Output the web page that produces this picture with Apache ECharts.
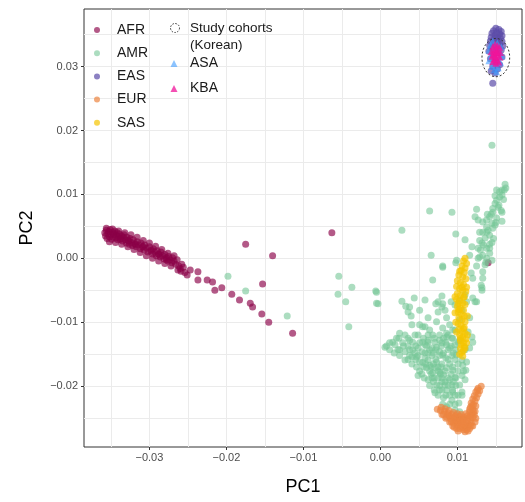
<!DOCTYPE html>
<html>
<head>
<meta charset="utf-8">
<script src="https://cdn.jsdelivr.net/npm/echarts@6/dist/echarts.min.js"></script>
<style>
html,body{margin:0;padding:0;background:#fff;}
#chart{width:525px;height:502px;}
</style>
</head>
<body>
<div id="chart"></div>
<script>
// ---- Tick labels / grid positions ----
const xTicks = [-0.03, -0.02, -0.01, 0.00, 0.01];
const yTicks = [-0.02, -0.01, 0.00, 0.01, 0.02, 0.03];
const xGrid = [-0.035, -0.03, -0.025, -0.02, -0.015, -0.01, -0.005, 0.0, 0.005, 0.01, 0.015];
const yGrid = [-0.025, -0.02, -0.015, -0.01, -0.005, 0.0, 0.005, 0.01, 0.015, 0.02, 0.025, 0.03, 0.035];
const xRange = [-0.0385, 0.0184];
const yRange = [-0.0295, 0.0390];

// ---- Series data (PC1, PC2) ----
const AFR = [
[-0.0358,0.0040],[-0.0357,0.0035],[-0.0356,0.0044],[-0.0355,0.0031],[-0.0354,0.0038],[-0.0353,0.0042],[-0.0352,0.0034],[-0.0351,0.0045],[-0.0350,0.0037],[-0.0349,0.0030],
[-0.0348,0.0041],[-0.0347,0.0034],[-0.0346,0.0038],[-0.0345,0.0043],[-0.0344,0.0032],[-0.0343,0.0036],[-0.0342,0.0040],[-0.0341,0.0029],[-0.0340,0.0034],[-0.0339,0.0038],
[-0.0337,0.0031],[-0.0336,0.0035],[-0.0335,0.0027],[-0.0334,0.0033],[-0.0333,0.0037],[-0.0331,0.0029],[-0.0330,0.0024],[-0.0329,0.0033],[-0.0327,0.0027],[-0.0326,0.0022],
[-0.0325,0.0031],[-0.0323,0.0025],[-0.0322,0.0020],[-0.0321,0.0029],[-0.0319,0.0023],[-0.0317,0.0018],[-0.0316,0.0026],[-0.0314,0.0021],[-0.0312,0.0015],[-0.0311,0.0024],
[-0.0309,0.0018],[-0.0307,0.0013],[-0.0306,0.0021],[-0.0304,0.0016],[-0.0302,0.0010],[-0.0300,0.0018],[-0.0298,0.0013],[-0.0296,0.0007],[-0.0295,0.0015],[-0.0293,0.0010],
[-0.0291,0.0004],[-0.0290,0.0012],[-0.0288,0.0007],[-0.0286,0.0002],[-0.0285,0.0010],[-0.0283,0.0004],[-0.0281,-0.0001],[-0.0280,0.0006],[-0.0278,0.0001],[-0.0276,-0.0004],
[-0.0275,0.0003],[-0.0273,-0.0002],[-0.0271,-0.0007],[-0.0270,0.0001],[-0.0268,-0.0004],[-0.0266,-0.0009],[-0.0264,-0.0002],[-0.0262,-0.0012],[-0.0260,-0.0016],[-0.0258,-0.0009],
[-0.0356,0.0047],[-0.0352,0.0026],[-0.0348,0.0046],[-0.0344,0.0025],[-0.0340,0.0043],[-0.0336,0.0022],[-0.0332,0.0040],[-0.0328,0.0018],[-0.0324,0.0037],[-0.0320,0.0014],
[-0.0316,0.0033],[-0.0312,0.0009],[-0.0308,0.0028],[-0.0304,0.0004],[-0.0300,0.0024],[-0.0296,0.0000],[-0.0292,0.0019],[-0.0288,-0.0004],[-0.0284,0.0014],[-0.0280,-0.0008],
[-0.0276,0.0008],[-0.0272,-0.0012],[-0.0268,0.0004],[-0.0263,-0.0018],[-0.0259,-0.0020],[-0.0256,-0.0014],[-0.0254,-0.0022],
[-0.0338,0.0030],[-0.0328,0.0028],[-0.0318,0.0022],[-0.0308,0.0018],[-0.0298,0.0011],[-0.0288,0.0006],[-0.0278,-0.0002],
[-0.0251,-0.0026],[-0.0247,-0.0018],[-0.0237,-0.0021],[-0.0237,-0.0034],[-0.0225,-0.0034],[-0.0218,-0.0037],[-0.0215,-0.0050],[-0.0206,-0.0046],[-0.0193,-0.0056],[-0.0183,-0.0065],
[-0.0169,-0.0070],[-0.0166,-0.0076],[-0.0154,-0.0087],[-0.0145,-0.0100],[-0.0114,-0.0117],[-0.0175,0.0022],[-0.0140,0.0004],[-0.0153,-0.0040],[-0.0063,0.0040],[0.0140,-0.0007]
];

const AMR = [
[-0.0198,-0.0028],[-0.0175,-0.0051],[-0.0121,-0.0090],
[0.0145,0.0177],[0.0064,0.0074],[0.0093,0.0072],[0.0028,0.0044],[0.0098,0.0038],[0.0066,0.0005],
[-0.0054,-0.0028],[-0.0037,-0.0045],[-0.0055,-0.0056],[-0.0045,-0.0068],[-0.0006,-0.0051],[-0.0003,-0.0071],[-0.0041,-0.0107],
[0.0028,-0.0067],[0.0044,-0.0062],[0.0038,-0.0076],[0.0040,-0.0090],[0.0041,-0.0104],[0.0068,-0.0034],[0.0081,-0.0014],
[0.0080,-0.0059],[0.0092,-0.0068],[0.0072,-0.0071],[0.0081,-0.0071],
[-0.0005,-0.0053],[-0.0005,-0.0070],[0.0033,-0.0075],[0.0036,-0.0084],[0.0058,-0.0107],[0.0081,-0.0109],[0.0086,-0.0117],
[0.0006,-0.0139],[0.0012,-0.0132],[0.0021,-0.0125],[0.0025,-0.0117],[0.0029,-0.0132],[0.0038,-0.0128],[0.0045,-0.0120],[0.0051,-0.0132],
[0.0032,-0.0146],[0.0042,-0.0143],[0.0054,-0.0146],[0.0062,-0.0131],[0.0068,-0.0120],[0.0073,-0.0139],[0.0032,-0.0159],[0.0041,-0.0154],
[0.0058,-0.0156],[0.0064,-0.0167],[0.0073,-0.0162],[0.0081,-0.0151],[0.0090,-0.0140],[0.0093,-0.0125],[0.0060,-0.0171],[0.0068,-0.0179],
[0.0077,-0.0178],[0.0086,-0.0171],[0.0067,-0.0187],[0.0080,-0.0193],[0.0090,-0.0190],[0.0073,-0.0198],[0.0049,-0.0183],[0.0086,-0.0206],
[0.0094,-0.0209],[0.0071,-0.0210],[0.0093,-0.0222],[0.0102,-0.0226],[0.0103,-0.0198],[0.0106,-0.0183],[0.0107,-0.0167],[0.0106,-0.0159],
[0.0112,-0.0162],[0.0116,-0.0140],[0.0120,-0.0131],[0.0097,-0.0073],[0.0112,-0.0068],[0.0120,-0.0062],[0.0125,-0.0068],[0.0132,-0.0050],
[0.0116,-0.0093],[0.0114,-0.0115],[0.0099,-0.0151],[0.0101,-0.0214],[0.0086,-0.0232],[0.0047,-0.0154],[0.0055,-0.0163],[0.0062,-0.0148],
[0.0080,-0.0132],[0.0075,-0.0170],[0.0094,-0.0175],[0.0097,-0.0186],
[0.0019,-0.0135],[0.0025,-0.0143],[0.0036,-0.0137],[0.0049,-0.0140],[0.0058,-0.0135],[0.0067,-0.0140],[0.0077,-0.0146],[0.0085,-0.0156],
[0.0051,-0.0162],[0.0062,-0.0159],[0.0071,-0.0171],[0.0082,-0.0182],[0.0075,-0.0187],[0.0062,-0.0190],[0.0084,-0.0198],[0.0093,-0.0198],
[0.0077,-0.0206],[0.0090,-0.0214],[0.0082,-0.0218],[0.0097,-0.0237],[0.0103,-0.0240],[0.0106,-0.0209],[0.0110,-0.0190],[0.0111,-0.0175],
[0.0077,-0.0128],[0.0086,-0.0135],[0.0097,-0.0135],[0.0103,-0.0128],[0.0110,-0.0143],[0.0064,-0.0112],[0.0051,-0.0104],[0.0073,-0.0099],
[0.0086,-0.0093],[0.0090,-0.0104],[0.0097,-0.0112],[0.0103,-0.0096],[0.0106,-0.0081],[0.0110,-0.0057],[0.0103,-0.0065],
[0.0162,0.0116],[0.0158,0.0107],[0.0151,0.0107],[0.0155,0.0096],[0.0149,0.0086],[0.0153,0.0080],[0.0146,0.0072],[0.0158,0.0072],
[0.0142,0.0065],[0.0151,0.0063],[0.0158,0.0058],[0.0145,0.0055],[0.0138,0.0049],[0.0146,0.0047],[0.0133,0.0041],[0.0142,0.0036],
[0.0136,0.0032],[0.0145,0.0025],[0.0132,0.0024],[0.0138,0.0016],[0.0142,0.0008],[0.0133,0.0005],[0.0145,-0.0003],[0.0136,-0.0010],
[0.0133,-0.0021],[0.0129,0.0002],[0.0127,0.0060],[0.0125,0.0077],[0.0123,0.0065],[0.0133,0.0057],[0.0129,0.0041],
[0.0110,0.0029],[0.0119,0.0018],[0.0127,0.0016],[0.0116,0.0005],[0.0127,0.0000],[0.0125,-0.0012],[0.0081,-0.0012],[0.0099,-0.0003],
[0.0118,-0.0023],[0.0120,-0.0031],[0.0133,-0.0031],[0.0131,-0.0042],
[0.0155,0.0104],[0.0149,0.0098],[0.0160,0.0092],[0.0139,0.0069],[0.0149,0.0052],[0.0138,0.0041],[0.0142,0.0022],[0.0130,0.0013],
[0.0138,0.0000],[0.0154,0.0083],[0.0163,0.0110],
[0.0098,-0.0007],[0.0132,-0.0046],[0.0123,-0.0068],[0.0075,-0.0068],[0.0080,-0.0076],[0.0055,-0.0107],[0.0062,-0.0128],[0.0086,-0.0123],
[0.0094,-0.0112],[0.0119,-0.0123],
[0.0032,-0.0120],[0.0049,-0.0120],[0.0062,-0.0120],[0.0077,-0.0120],[0.0088,-0.0120],
[0.0016,-0.0131],[0.0042,-0.0131],[0.0055,-0.0131],[0.0071,-0.0131],[0.0085,-0.0131],[0.0101,-0.0131],
[0.0012,-0.0143],[0.0023,-0.0143],[0.0038,-0.0143],[0.0064,-0.0143],[0.0072,-0.0143],[0.0088,-0.0143],[0.0098,-0.0143],
[0.0025,-0.0152],[0.0038,-0.0152],[0.0049,-0.0152],[0.0067,-0.0152],[0.0077,-0.0152],[0.0093,-0.0152],
[0.0041,-0.0165],[0.0059,-0.0165],[0.0069,-0.0165],[0.0080,-0.0165],[0.0090,-0.0165],[0.0101,-0.0165],
[0.0051,-0.0176],[0.0064,-0.0176],[0.0075,-0.0176],[0.0084,-0.0176],[0.0101,-0.0176],[0.0108,-0.0176],
[0.0057,-0.0187],[0.0070,-0.0187],[0.0080,-0.0187],[0.0088,-0.0187],[0.0098,-0.0187],
[0.0064,-0.0199],[0.0077,-0.0199],[0.0088,-0.0199],[0.0098,-0.0199],
[0.0075,-0.0214],[0.0085,-0.0214],[0.0097,-0.0214],[0.0106,-0.0214],
[0.0081,-0.0228],[0.0090,-0.0228],[0.0097,-0.0228],
[0.0024,-0.0125],[0.0036,-0.0125],[0.0056,-0.0125],[0.0070,-0.0125],[0.0082,-0.0125],[0.0094,-0.0125],
[0.0008,-0.0137],[0.0030,-0.0137],[0.0046,-0.0137],[0.0060,-0.0137],[0.0079,-0.0137],[0.0092,-0.0137],
[0.0018,-0.0148],[0.0045,-0.0148],[0.0058,-0.0148],[0.0069,-0.0148],[0.0082,-0.0148],[0.0095,-0.0148],
[0.0036,-0.0158],[0.0046,-0.0158],[0.0072,-0.0158],[0.0088,-0.0158],[0.0097,-0.0158],
[0.0047,-0.0170],[0.0056,-0.0170],[0.0066,-0.0170],[0.0079,-0.0170],[0.0094,-0.0170],
[0.0054,-0.0181],[0.0066,-0.0181],[0.0078,-0.0181],[0.0092,-0.0181],
[0.0069,-0.0193],[0.0084,-0.0193],[0.0095,-0.0193],
[0.0070,-0.0206],[0.0080,-0.0206],[0.0094,-0.0206],
[0.0051,-0.0081],[0.0062,-0.0093],[0.0075,-0.0084],[0.0058,-0.0065],[0.0084,-0.0081],
[0.0137,-0.0006],[0.0142,0.0016],[0.0134,0.0021],[0.0147,0.0031],[0.0140,0.0044],[0.0150,0.0056],[0.0144,0.0069],[0.0157,0.0075],
[0.0151,0.0091],[0.0158,0.0099],[0.0161,0.0107],[0.0146,0.0078],[0.0129,0.0028],[0.0138,0.0060]
];

const EAS = [
[0.0150,0.0360],[0.0154,0.0358],[0.0147,0.0356],[0.0157,0.0355],[0.0151,0.0353],[0.0145,0.0352],[0.0155,0.0351],[0.0149,0.0349],
[0.0158,0.0348],[0.0152,0.0346],[0.0144,0.0346],[0.0156,0.0344],[0.0148,0.0343],[0.0153,0.0341],[0.0143,0.0340],[0.0158,0.0339],
[0.0150,0.0338],[0.0146,0.0336],[0.0155,0.0335],[0.0142,0.0333],[0.0159,0.0332],[0.0151,0.0330],[0.0145,0.0328],[0.0157,0.0326],
[0.0141,0.0324],[0.0153,0.0322],[0.0147,0.0318],[0.0158,0.0315],[0.0143,0.0312],[0.0150,0.0308],[0.0155,0.0303],[0.0146,0.0300],
[0.0152,0.0296],[0.0144,0.0293],[0.0149,0.0290],[0.0146,0.0274]
];

const EUR = [
[0.0131,-0.0200],[0.0127,-0.0203],[0.0129,-0.0207],[0.0124,-0.0209],[0.0127,-0.0212],[0.0122,-0.0215],[0.0125,-0.0218],[0.0120,-0.0220],
[0.0123,-0.0223],[0.0118,-0.0226],[0.0121,-0.0229],[0.0124,-0.0231],[0.0117,-0.0233],[0.0120,-0.0236],[0.0123,-0.0239],[0.0116,-0.0240],
[0.0119,-0.0243],[0.0122,-0.0245],
[0.0113,-0.0246],[0.0108,-0.0248],[0.0103,-0.0247],[0.0098,-0.0246],[0.0093,-0.0244],[0.0088,-0.0242],[0.0083,-0.0239],[0.0078,-0.0238],
[0.0074,-0.0236],[0.0080,-0.0244],[0.0086,-0.0248],[0.0092,-0.0251],[0.0097,-0.0253],[0.0102,-0.0255],[0.0107,-0.0256],[0.0112,-0.0257],
[0.0117,-0.0252],[0.0120,-0.0249],[0.0095,-0.0258],[0.0100,-0.0261],[0.0105,-0.0263],[0.0110,-0.0264],[0.0115,-0.0261],[0.0118,-0.0257],
[0.0103,-0.0266],[0.0108,-0.0268],[0.0112,-0.0268],[0.0098,-0.0255],[0.0090,-0.0247],[0.0114,-0.0250],[0.0106,-0.0251],[0.0100,-0.0250],
[0.0095,-0.0250],[0.0100,-0.0257],[0.0105,-0.0259],[0.0110,-0.0260],[0.0113,-0.0254],[0.0108,-0.0252],[0.0104,-0.0253],[0.0097,-0.0248],
[0.0092,-0.0255],[0.0107,-0.0265],[0.0113,-0.0264],[0.0117,-0.0246],[0.0121,-0.0240],[0.0126,-0.0206],[0.0119,-0.0230],[0.0089,-0.0238],
[0.0084,-0.0235],[0.0079,-0.0233],[0.0116,-0.0236],[0.0111,-0.0243],
[0.0085,-0.0250],[0.0090,-0.0256],[0.0094,-0.0262],[0.0099,-0.0266],[0.0116,-0.0266],[0.0120,-0.0262],[0.0123,-0.0256],[0.0124,-0.0250],
[0.0101,-0.0270],[0.0110,-0.0271],[0.0088,-0.0245],[0.0082,-0.0244],[0.0095,-0.0241],[0.0100,-0.0243],[0.0105,-0.0244],[0.0118,-0.0262],
[0.0096,-0.0264],[0.0114,-0.0270]
];

const SAS = [
[0.0110,0.0000],[0.0108,-0.0004],[0.0112,-0.0008],[0.0106,-0.0012],[0.0110,-0.0015],[0.0105,-0.0019],[0.0109,-0.0022],[0.0102,-0.0026],
[0.0107,-0.0029],[0.0111,-0.0032],[0.0100,-0.0035],[0.0104,-0.0038],[0.0108,-0.0041],[0.0099,-0.0044],[0.0103,-0.0047],[0.0107,-0.0050],
[0.0111,-0.0052],[0.0100,-0.0055],[0.0104,-0.0058],[0.0108,-0.0061],[0.0099,-0.0064],[0.0103,-0.0067],[0.0107,-0.0070],[0.0110,-0.0072],
[0.0100,-0.0075],[0.0104,-0.0078],[0.0108,-0.0081],[0.0101,-0.0084],[0.0105,-0.0087],[0.0109,-0.0090],[0.0102,-0.0093],[0.0106,-0.0096],
[0.0110,-0.0099],[0.0101,-0.0102],[0.0105,-0.0105],[0.0109,-0.0108],[0.0102,-0.0111],[0.0106,-0.0114],[0.0110,-0.0117],[0.0103,-0.0120],
[0.0107,-0.0123],[0.0111,-0.0126],[0.0104,-0.0129],[0.0108,-0.0132],[0.0105,-0.0135],[0.0109,-0.0138],[0.0104,-0.0141],[0.0108,-0.0144],
[0.0106,-0.0147],[0.0103,-0.0150],[0.0107,-0.0153],
[0.0103,-0.0020],[0.0109,-0.0060],[0.0102,-0.0080],[0.0108,-0.0110],[0.0104,-0.0125],[0.0110,-0.0140],[0.0101,-0.0070],[0.0106,-0.0045],
[0.0097,-0.0060],[0.0113,-0.0090],[0.0098,-0.0100],[0.0113,-0.0120],[0.0099,-0.0115],[0.0112,-0.0045],[0.0097,-0.0085],[0.0112,-0.0132]
];

const ASA = [
[0.0146,0.0340],[0.0152,0.0337],[0.0143,0.0334],[0.0157,0.0331],[0.0148,0.0329],[0.0141,0.0326],[0.0155,0.0324],[0.0150,0.0321],
[0.0144,0.0318],[0.0158,0.0317],[0.0147,0.0314],[0.0153,0.0311],[0.0141,0.0309],[0.0156,0.0306],[0.0149,0.0304],[0.0145,0.0300],
[0.0153,0.0298],[0.0148,0.0295],[0.0151,0.0292]
];

const KBA = [
[0.0149,0.0335],[0.0152,0.0333],[0.0146,0.0331],[0.0155,0.0330],[0.0150,0.0328],[0.0147,0.0326],[0.0153,0.0325],[0.0144,0.0323],
[0.0156,0.0322],[0.0150,0.0321],[0.0147,0.0319],[0.0153,0.0318],[0.0145,0.0316],[0.0155,0.0315],[0.0150,0.0314],[0.0148,0.0311],
[0.0152,0.0310],[0.0146,0.0308],[0.0154,0.0307],[0.0150,0.0305],[0.0149,0.0317],[0.0151,0.0323]
];

// Study-cohort ellipse: [centerPC1, centerPC2, radiusPC1, radiusPC2]
const cohortEllipse = [[0.0150, 0.0314, 0.0018, 0.0030]];

const popNames = ['AFR', 'AMR', 'EAS', 'EUR', 'SAS'];
const cohortName = 'Study cohorts\n(Korean)';
const chipNames = ['ASA', 'KBA'];

const FONT = '"Liberation Sans", Arial, Helvetica, sans-serif';
const colors = {
  AFR: '#8B0046', AMR: '#74C796', EAS: '#5B4BA8', EUR: '#EC8440', SAS: '#F5C400',
  ASA: '#3E9BFF', KBA: '#F0149A'
};

function fmt(v) {
  const s = Math.abs(v).toFixed(2);
  return (v < -1e-9 ? '\u2212' : '') + s;
}

function scatter(name, data, symbol, opacity) {
  return {
    name: name, type: 'scatter', data: data,
    xAxisIndex: 0, yAxisIndex: 0,
    symbol: symbol, symbolSize: 7,
    itemStyle: { color: colors[name], opacity: opacity },
    emphasis: { disabled: true },
    z: 3
  };
}

const chart = echarts.init(document.getElementById('chart'), null, { renderer: 'canvas' });

const option = {
  animation: false,
  backgroundColor: '#ffffff',
  textStyle: { fontFamily: FONT },
  grid: {
    left: 84, right: 3, top: 9, bottom: 55,
    show: true, borderColor: '#333333', borderWidth: 1, backgroundColor: '#ffffff',
    containLabel: false
  },
  xAxis: [
    {
      type: 'value', min: xRange[0], max: xRange[1], position: 'bottom',
      name: 'PC1', nameLocation: 'middle', nameGap: 31,
      nameTextStyle: { fontSize: 18, color: '#000', fontFamily: FONT },
      axisLine: { show: false, onZero: false },
      axisTick: { show: true, length: 3, lineStyle: { color: '#333' }, customValues: xTicks },
      axisLabel: { show: true, customValues: xTicks, formatter: fmt, fontSize: 11, color: '#4D4D4D', margin: 5, fontFamily: FONT },
      splitLine: { show: false }
    },
    {
      type: 'value', min: xRange[0], max: xRange[1], position: 'bottom',
      axisLine: { show: false, onZero: false },
      axisTick: { show: false, customValues: xGrid },
      axisLabel: { show: false },
      splitLine: { show: true, lineStyle: { color: '#EBEBEB', width: 1 } }
    }
  ],
  yAxis: [
    {
      type: 'value', min: yRange[0], max: yRange[1], position: 'left',
      name: 'PC2', nameLocation: 'middle', nameGap: 48, nameRotate: 90,
      nameTextStyle: { fontSize: 18, color: '#000', fontFamily: FONT },
      axisLine: { show: false, onZero: false },
      axisTick: { show: true, length: 3, lineStyle: { color: '#333' }, customValues: yTicks },
      axisLabel: { show: true, customValues: yTicks, formatter: fmt, fontSize: 11, color: '#4D4D4D', margin: 6, fontFamily: FONT },
      splitLine: { show: false }
    },
    {
      type: 'value', min: yRange[0], max: yRange[1], position: 'left',
      axisLine: { show: false, onZero: false },
      axisTick: { show: false, customValues: yGrid },
      axisLabel: { show: false },
      splitLine: { show: true, lineStyle: { color: '#EBEBEB', width: 1 } }
    }
  ],
  legend: [
    {
      data: popNames, orient: 'vertical', left: 94, top: 23, padding: 0,
      itemWidth: 6, itemHeight: 6, itemGap: 9.2, icon: 'circle', selectedMode: false,
      textStyle: { fontSize: 14, lineHeight: 14, color: '#1a1a1a', fontFamily: FONT, padding: [0, 0, 0, 12] }
    },
    {
      data: [{ name: cohortName, icon: 'circle', itemStyle: { opacity: 0 } }],
      orient: 'vertical', left: 170.5, top: 19.5, padding: 0,
      itemWidth: 7, itemHeight: 7, selectedMode: false,
      textStyle: { fontSize: 13.5, lineHeight: 17, color: '#1a1a1a', fontFamily: FONT, padding: [0, 0, 0, 7.5] }
    },
    {
      data: chipNames, orient: 'vertical', left: 170.5, top: 56.5, padding: 0,
      itemWidth: 7, itemHeight: 7, itemGap: 11, icon: 'triangle', selectedMode: false,
      textStyle: { fontSize: 14, lineHeight: 14, color: '#1a1a1a', fontFamily: FONT, padding: [0, 0, 0, 7.5] }
    }
  ],
  graphic: [
    { type: 'circle', shape: { cx: 175, cy: 28, r: 4.5 }, style: { fill: 'none', stroke: '#333', lineWidth: 1, lineDash: [1.5, 1.5] }, silent: true, z: 100 },
    { type: 'text', left: 12, top: 499.5, style: { text: 'C', font: 'bold 22px ' + FONT, fill: '#000' }, silent: true }
  ],
  series: [
    scatter('AFR', AFR, 'circle', 0.65),
    scatter('AMR', AMR, 'circle', 0.6),
    scatter('EAS', EAS, 'circle', 0.7),
    scatter('EUR', EUR, 'circle', 0.7),
    scatter('SAS', SAS, 'circle', 0.7),
    scatter('ASA', ASA, 'triangle', 0.6),
    scatter('KBA', KBA, 'triangle', 0.75),
    {
      name: cohortName, type: 'custom', data: cohortEllipse,
      xAxisIndex: 0, yAxisIndex: 0, z: 5, silent: true,
      encode: { x: 0, y: 1 },
      renderItem: function (params, api) {
        const c = api.coord([api.value(0), api.value(1)]);
        const s = api.size([api.value(2), api.value(3)]);
        return {
          type: 'ellipse',
          shape: { cx: c[0], cy: c[1], rx: s[0], ry: s[1] },
          style: { fill: 'none', stroke: '#333', lineWidth: 1, lineDash: [2, 2] }
        };
      }
    }
  ]
};

chart.setOption(option);
</script>
</body>
</html>
